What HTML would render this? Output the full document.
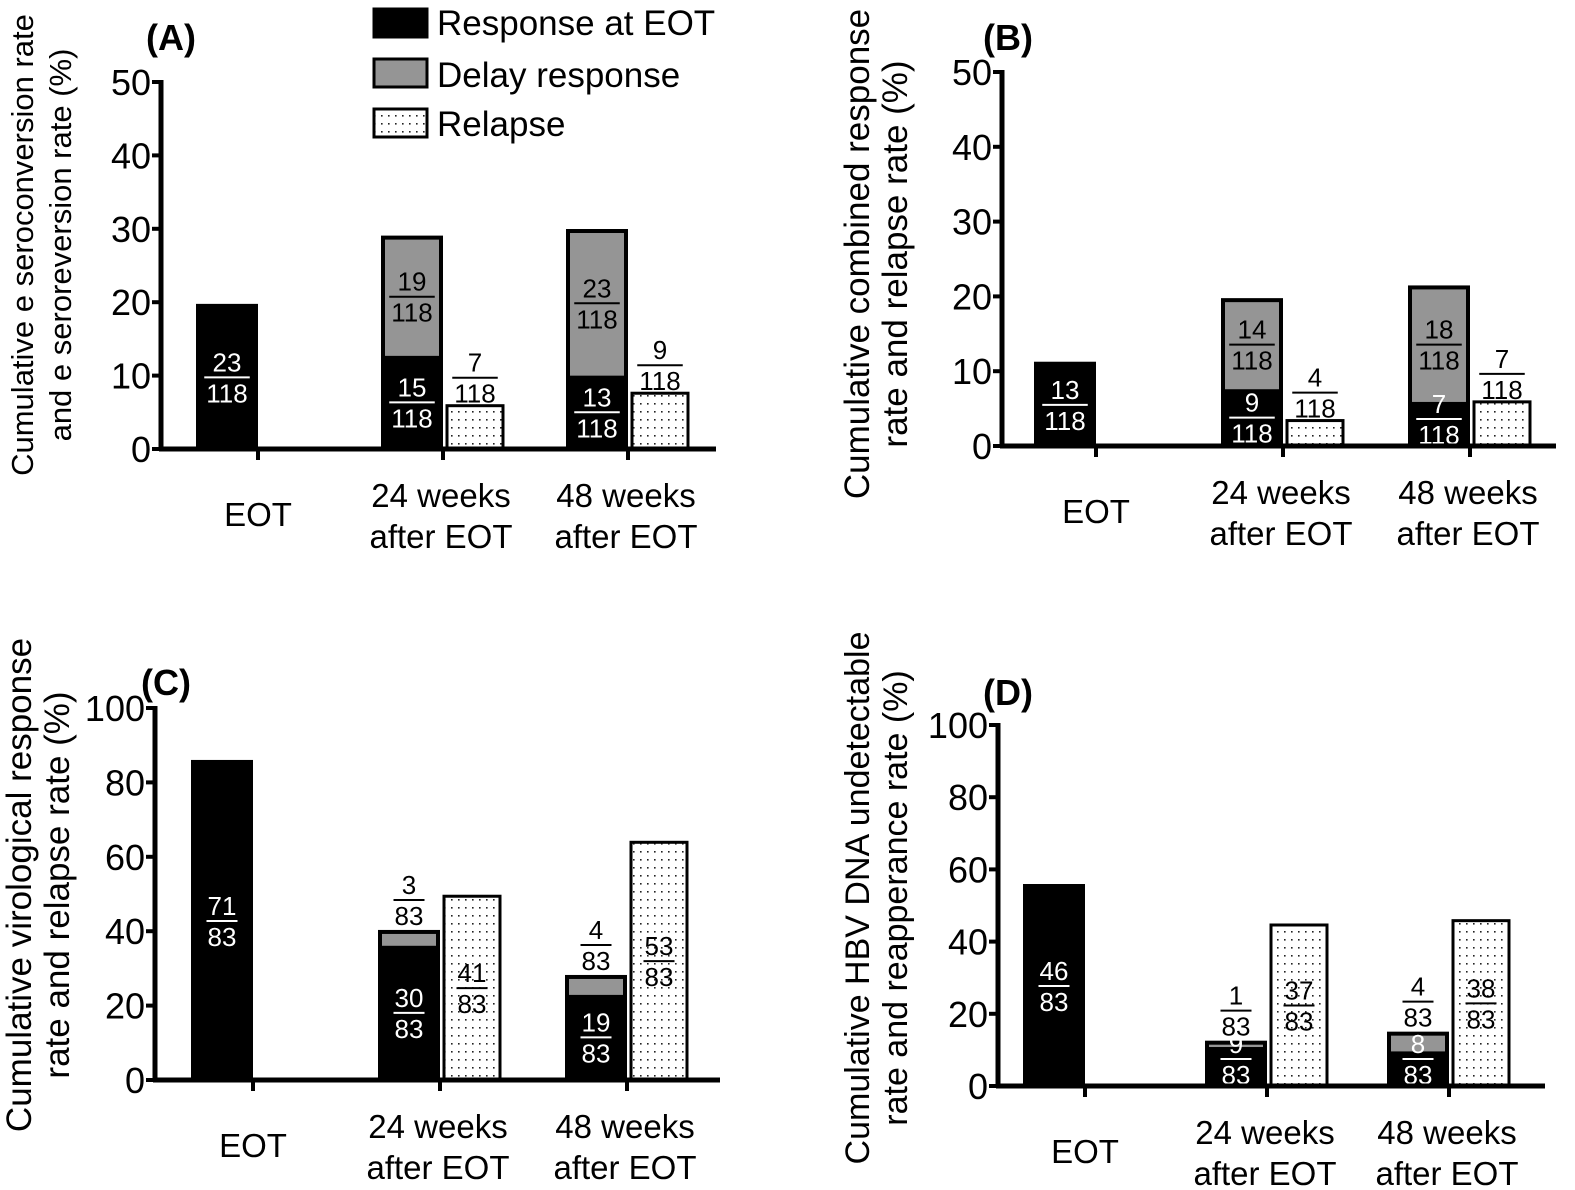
<!DOCTYPE html>
<html><head><meta charset="utf-8">
<style>
html,body{margin:0;padding:0;background:#fff;}
svg{display:block;font-family:"Liberation Sans",Arial,sans-serif;}
</style></head>
<body>
<svg id="fig" width="1575" height="1190" viewBox="0 0 1575 1190" xmlns="http://www.w3.org/2000/svg">
<defs>
<pattern id="dots" width="7" height="8" patternUnits="userSpaceOnUse">
<rect width="7" height="8" fill="#fff"/>
<rect x="3" y="3" width="1.6" height="1.6" fill="#222"/>
</pattern>
</defs>
<g>
<rect x="374" y="9" width="53" height="28" fill="#000" stroke="#000" stroke-width="3"/>
<text x="437" y="35" font-size="35">Response at EOT</text>
<rect x="374" y="59" width="53" height="28" fill="#959595" stroke="#000" stroke-width="3"/>
<text x="437" y="87" font-size="35">Delay response</text>
<rect x="374" y="109" width="53" height="28" fill="url(#dots)" stroke="#000" stroke-width="3"/>
<text x="437" y="136" font-size="35">Relapse</text>
</g>
</svg>
<script>
const categories = ["EOT", "24 weeks|after EOT", "48 weeks|after EOT"];
// values in percent
const respA = [19.5, 12.7, 10.0];
const delayA = [0, 16.1, 19.7];
const relapseA = [null, 5.9, 7.6];
const respLabA = ["23/118", "15/118", "13/118"];
const delayLabA = [null, "19/118", "23/118"];
const relLabA = [null, "7/118", "9/118"];

const respB = [11.0, 7.6, 5.9];
const delayB = [0, 11.9, 15.3];
const relapseB = [null, 3.4, 5.9];
const respLabB = ["13/118", "9/118", "7/118"];
const delayLabB = [null, "14/118", "18/118"];
const relLabB = [null, "4/118", "7/118"];

const respC = [85.5, 36.1, 22.9];
const delayC = [0, 3.7, 4.8];
const relapseC = [null, 49.4, 63.9];
const respLabC = ["71/83", "30/83", "19/83"];
const delayLabC = [null, "3/83", "4/83"];
const relLabC = [null, "41/83", "53/83"];

const respD = [55.4, 10.8, 9.6];
const delayD = [0, 1.2, 4.9];
const relapseD = [null, 44.6, 45.8];
const respLabD = ["46/83", "9/83", "8/83"];
const delayLabD = [null, "1/83", "4/83"];
const relLabD = [null, "37/83", "38/83"];

const ticksAB = [0, 10, 20, 30, 40, 50];
const ticksCD = [0, 20, 40, 60, 80, 100];

const NS = "http://www.w3.org/2000/svg";
const svg = document.getElementById("fig");
function mk(tag, attrs, parent) {
  const e = document.createElementNS(NS, tag);
  for (const k in attrs) e.setAttribute(k, attrs[k]);
  (parent || svg).appendChild(e);
  return e;
}

function fraction(g, cx, ly, lab, color, name) {
  const [n, d] = lab.split("/");
  const w = d.length * 14.5 + 2;
  const fg = mk("g", {}, g);
  
  
  const t1 = mk("text", {x: cx, y: ly - 6, "font-size": 26, "text-anchor": "middle", fill: color}, fg);
  t1.textContent = n;
  mk("line", {x1: cx - w / 2, x2: cx + w / 2, y1: ly, y2: ly, stroke: color, "stroke-width": 2}, fg);
  const t2 = mk("text", {x: cx, y: ly + 25, "font-size": 26, "text-anchor": "middle", fill: color}, fg);
  t2.textContent = d;
}

function panel(p) {
  const g = mk("g", {});
  
  
  const yS = v => p.y0 - (v / p.max) * (p.y0 - p.yTop);
  const xS = i => p.cx0 + i * p.step;
  const bw = 58;
  const pl = mk("text", {x: p.lx, y: p.ly, "font-size": 36, "font-weight": "bold"}, g);
  
  
  pl.textContent = "(" + p.id.toUpperCase() + ")";
  const yt = mk("text", {transform: "translate(" + p.tx + "," + p.ty + ") rotate(-90)", "font-size": p.tfs, "text-anchor": "middle"}, g);
  
  
  const s1 = mk("tspan", {x: 0, y: 0}, yt); s1.textContent = p.title[0];
  const s2 = mk("tspan", {x: 0, y: 38}, yt); s2.textContent = p.title[1];
  for (let i = 0; i < categories.length; i++) {
    const t = xS(i);
    const bx = t - 2 - bw;
    const r = p.resp[i], d = p.delay[i];
    const top = yS(r + d);
    if (d > 0) {
      const gb = mk("rect", {x: bx, y: top, width: bw, height: yS(r) - top, fill: "#959595"}, g);
      
      
    }
    const rb = mk("rect", {x: bx, y: yS(r), width: bw, height: p.y0 - yS(r), fill: "#000"}, g);
    
    
    const ob = mk("rect", {x: bx, y: top, width: bw, height: p.y0 - top, fill: "none", stroke: "#000", "stroke-width": 4}, g);
    
    
    fraction(g, bx + bw / 2, Math.min((yS(r) + p.y0) / 2, p.y0 - 27), p.respLab[i], "#fff", 'label-response-' + i);
    if (p.delayLab[i]) {
      const hh = yS(r) - top;
      if (hh > 50) fraction(g, bx + bw / 2, (top + yS(r)) / 2, p.delayLab[i], "#000", 'label-delay-' + i);
      else fraction(g, bx + bw / 2, top - 32, p.delayLab[i], "#000", 'label-delay-' + i);
    }
    if (p.rel[i] != null) {
      const rx = t + 4;
      const ry = yS(p.rel[i]);
      const rr = mk("rect", {x: rx, y: ry, width: bw - 2, height: p.y0 - ry, fill: "url(#dots)", stroke: "#000", "stroke-width": 3}, g);
      
      
      if (p.y0 - ry > 60) fraction(g, rx + bw / 2 - 1, (ry + p.y0) / 2, p.relLab[i], "#000", 'label-relapse-' + i);
      else fraction(g, rx + bw / 2 - 1, ry - 28, p.relLab[i], "#000", 'label-relapse-' + i);
    }
    mk("line", {x1: t, x2: t, y1: p.y0, y2: p.y0 + 11, stroke: "#000", "stroke-width": 4}, g);
    const lines = categories[i].split("|");
    const ct = mk("text", {"font-size": 33, "text-anchor": "middle"}, g);
    
    
    if (lines.length === 1) {
      const s = mk("tspan", {x: t, y: p.y0 + 77}, ct); s.textContent = lines[0];
    } else {
      const a = mk("tspan", {x: t - 2, y: p.y0 + 58}, ct); a.textContent = lines[0];
      const b = mk("tspan", {x: t - 2, y: p.y0 + 99}, ct); b.textContent = lines[1];
    }
  }
  const ya = mk("line", {x1: p.ax, x2: p.ax, y1: p.yTop - 2, y2: p.y0 + 2, stroke: "#000", "stroke-width": 5}, g);
  
  
  const xa = mk("line", {x1: p.ax - 2, x2: p.xEnd, y1: p.y0, y2: p.y0, stroke: "#000", "stroke-width": 5}, g);
  
  
  p.ticks.forEach(v => {
    const y = yS(v);
    mk("line", {x1: p.ax - 9, x2: p.ax, y1: y, y2: y, stroke: "#000", "stroke-width": 4}, g);
    const tl = mk("text", {x: p.ax - 10, y: y + 13, "font-size": 36, "text-anchor": "end"}, g);
    
    
    tl.textContent = v;
  });
}

panel({id: "a", resp: respA, delay: delayA, rel: relapseA, respLab: respLabA, delayLab: delayLabA, relLab: relLabA,
  max: 50, ticks: ticksAB, y0: 449, yTop: 82, ax: 161, xEnd: 716, cx0: 258, step: 185,
  lx: 146, ly: 50, tx: 33, ty: 245, tfs: 31, title: ["Cumulative e seroconversion rate", "and e seroreversion rate (%)"]});
panel({id: "b", resp: respB, delay: delayB, rel: relapseB, respLab: respLabB, delayLab: delayLabB, relLab: relLabB,
  max: 50, ticks: ticksAB, y0: 446, yTop: 72, ax: 1002, xEnd: 1556, cx0: 1096, step: 187,
  lx: 983, ly: 50, tx: 869, ty: 254, tfs: 35, title: ["Cumulative combined response", "rate and relapse rate (%)"]});
panel({id: "c", resp: respC, delay: delayC, rel: relapseC, respLab: respLabC, delayLab: delayLabC, relLab: relLabC,
  max: 100, ticks: ticksCD, y0: 1080, yTop: 708, ax: 155, xEnd: 720, cx0: 253, step: 187,
  lx: 141, ly: 695, tx: 31, ty: 885, tfs: 35, title: ["Cumulative virological response", "rate and relapse rate (%)"]});
panel({id: "d", resp: respD, delay: delayD, rel: relapseD, respLab: respLabD, delayLab: delayLabD, relLab: relLabD,
  max: 100, ticks: ticksCD, y0: 1086, yTop: 725, ax: 998, xEnd: 1545, cx0: 1085, step: 182,
  lx: 983, ly: 705, tx: 869, ty: 898, tfs: 34, title: ["Cumulative HBV DNA undetectable", "rate and reapperance rate (%)"]});
</script>
</body></html>
